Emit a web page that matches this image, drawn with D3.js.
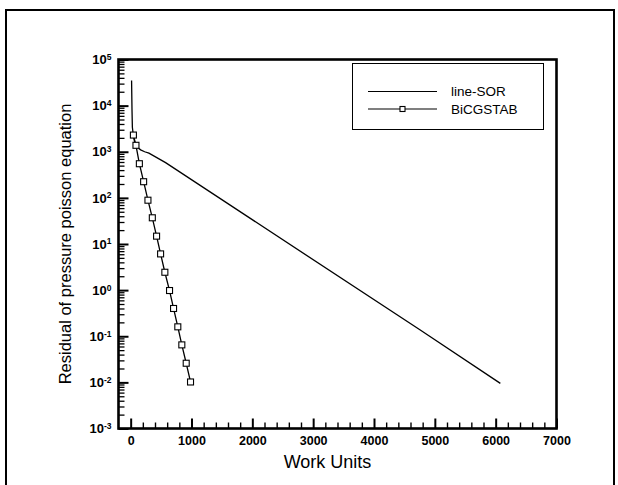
<!DOCTYPE html>
<html>
<head>
<meta charset="utf-8">
<script src="https://cdn.jsdelivr.net/npm/d3@7"></script>
<style>
  body { margin: 0; background: #fff; }
  svg { display: block; font-family: "Liberation Sans", Arial, sans-serif; }
</style>
</head>
<body>
<div id="chart"></div>
<script>
// data
var sorWork  = [15, 22, 28, 45, 66, 110, 164, 230, 300, 574, 1967, 4754, 6077];
var sorResid = [3.5e4, 8e3, 3.4e3, 2.2e3, 1.6e3, 1.25e3, 1.1e3, 1.0e3, 935, 580, 35.9, 0.138, 0.0095];

var bicgWork  = [45, 87, 143, 213, 284, 356, 426, 492, 562, 639, 705, 775, 841, 913, 984];
var bicgResid = [2300, 1380, 550, 224, 89, 37, 14.8, 6.1, 2.44, 0.98, 0.40, 0.16, 0.065, 0.026, 0.0102];

var xTicks = [0, 1000, 2000, 3000, 4000, 5000, 6000, 7000];
var yExps = [-3, -2, -1, 0, 1, 2, 3, 4, 5];
var seriesNames = ["line-SOR", "BiCGSTAB"];

var W = 618, H = 485;
var plotL = 118.5, plotR = 556.5, plotT = 59.5, plotB = 428.5;

var svg = d3.select("#chart").append("svg")
  .attr("width", W)
  .attr("height", H);

// outer frame (runs off the bottom)
svg.append("rect")
  .attr("x", 6).attr("y", 10)
  .attr("width", 608).attr("height", 520)
  .attr("fill", "none").attr("stroke", "#000").attr("stroke-width", 2);

var x = d3.scaleLinear().domain([-200, 7000]).range([plotL, plotR]);
var y = d3.scaleLog().domain([1e-3, 1e5]).range([plotB, plotT]);

// minor x ticks every 200
var xMinor = d3.range(0, 7001, 200).filter(function(d) { return d % 1000 != 0; });
svg.append("g")
  .attr("transform", "translate(0," + plotB + ")")
  .call(d3.axisBottom(x).tickValues(xMinor).tickSize(-6).tickFormat(""))
  .call(function(g) { g.select(".domain").remove(); })
  .selectAll("line").attr("stroke", "#000").attr("stroke-width", 1.4);

var xAxis = svg.append("g")
  .attr("transform", "translate(0," + plotB + ")")
  .call(d3.axisBottom(x).tickValues(xTicks).tickSizeInner(-10).tickSizeOuter(0)
    .tickPadding(8).tickFormat(d3.format("d")));
xAxis.select(".domain").remove();
xAxis.selectAll("line").attr("stroke", "#000").attr("stroke-width", 2);
xAxis.selectAll("text")
  .style("font-size", "12.5px")
  .style("font-weight", "bold")
  .attr("fill", "#000");

// minor y ticks 2..9 per decade
var yMinor = [];
for (var e = -3; e < 5; e++) {
  for (var m = 2; m <= 9; m++) yMinor.push(m * Math.pow(10, e));
}
svg.append("g")
  .attr("transform", "translate(" + plotL + ",0)")
  .call(d3.axisLeft(y).tickValues(yMinor).tickSize(-6).tickFormat(""))
  .call(function(g) { g.select(".domain").remove(); })
  .selectAll("line").attr("stroke", "#000").attr("stroke-width", 1.3);

var yAxis = svg.append("g")
  .attr("transform", "translate(" + plotL + ",0)")
  .call(d3.axisLeft(y).tickValues(yExps.map(function(e) { return Math.pow(10, e); }))
    .tickSizeInner(-10).tickSizeOuter(0).tickPadding(8).tickFormat(""));
yAxis.select(".domain").remove();
yAxis.selectAll("line").attr("stroke", "#000").attr("stroke-width", 2);
yAxis.selectAll(".tick text").each(function(d) {
  var t = d3.select(this)
    .attr("fill", "#000")
    .attr("x", -7)
    .style("font-size", "13px")
    .style("font-weight", "bold");
  t.append("tspan").text("10");
  t.append("tspan")
    .attr("dy", "-0.5em")
    .style("font-size", "8.5px")
    .text(String(Math.round(Math.log10(d))));
});

// plot frame
svg.append("rect")
  .attr("x", plotL).attr("y", plotT)
  .attr("width", plotR - plotL).attr("height", plotB - plotT)
  .attr("fill", "none").attr("stroke", "#000").attr("stroke-width", 2.6);

// lines
var sorData = sorWork.map(function(d, i) { return [d, sorResid[i]]; });
var bicgData = bicgWork.map(function(d, i) { return [d, bicgResid[i]]; });

var line = d3.line()
  .x(function(d) { return x(d[0]); })
  .y(function(d) { return y(d[1]); });

svg.append("path")
  .datum(sorData)
  .attr("d", line)
  .attr("fill", "none").attr("stroke", "#000").attr("stroke-width", 1.3);

svg.append("path")
  .datum(bicgData)
  .attr("d", line)
  .attr("fill", "none").attr("stroke", "#000").attr("stroke-width", 1.3);

svg.append("g")
  .selectAll("rect")
  .data(bicgData)
  .enter().append("rect")
    .attr("x", function(d) { return x(d[0]) - 3; })
    .attr("y", function(d) { return y(d[1]) - 3; })
    .attr("width", 6).attr("height", 6)
    .attr("fill", "#fff").attr("stroke", "#000").attr("stroke-width", 1.1);

// legend
var legend = svg.append("g");
legend.append("rect")
  .attr("x", 352.5).attr("y", 63.5)
  .attr("width", 191).attr("height", 66)
  .attr("fill", "#fff").attr("stroke", "#000").attr("stroke-width", 1);

seriesNames.forEach(function(name, i) {
  var ly = 91.5 + i * 17.5;
  legend.append("line")
    .attr("x1", 368).attr("x2", 437)
    .attr("y1", ly).attr("y2", ly)
    .attr("stroke", "#000").attr("stroke-width", 1.2);
  if (i == 1) {
    legend.append("rect")
      .attr("x", 400).attr("y", ly - 2.5)
      .attr("width", 5).attr("height", 5)
      .attr("fill", "#fff").attr("stroke", "#000").attr("stroke-width", 1.1);
  }
  legend.append("text")
    .attr("x", 451).attr("y", ly)
    .attr("dy", "0.35em")
    .style("font-size", "13.5px")
    .text(name);
});

// axis titles
svg.append("text")
  .attr("x", (plotL + plotR) / 2 - 10)
  .attr("y", 462)
  .attr("dy", "0.35em")
  .attr("text-anchor", "middle")
  .style("font-size", "18px")
  .text("Work Units");

svg.append("text")
  .attr("transform", "translate(65," + ((plotT + plotB) / 2) + ")rotate(-90)")
  .attr("dy", "0.35em")
  .attr("text-anchor", "middle")
  .style("font-size", "16.5px")
  .text("Residual of pressure poisson equation");
</script>
</body>
</html>
